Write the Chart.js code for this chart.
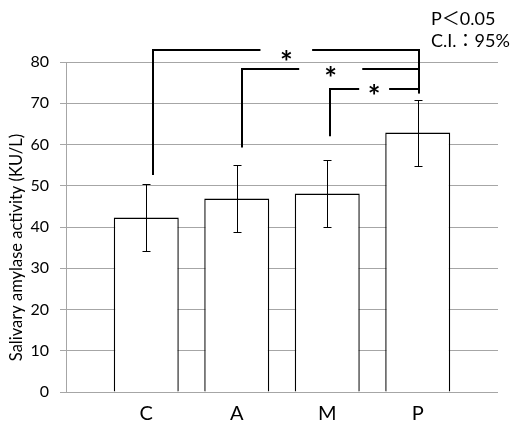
<!DOCTYPE html>
<html><head><meta charset="utf-8">
<script src="https://cdn.jsdelivr.net/npm/chart.js@4.4.1/dist/chart.umd.min.js"></script>
<style>html,body{margin:0;padding:0;background:#fff}#wrap{width:518px;height:425px}</style>
</head><body><div id="wrap"><canvas id="c" width="518" height="425"></canvas></div>
<script>
// ---- data ----
const categories = ['C', 'A', 'M', 'P'];
const means = [42.3, 46.9, 48.1, 62.9];
const sds = [8.1, 8.1, 8.1, 8.0];
const yTicks = [0, 10, 20, 30, 40, 50, 60, 70, 80];
// significance brackets (x in category units, y in KU/L units)
const bracketFrom = [0.07, 1.06, 2.03];
const bracketTo = [3.01, 3.01, 3.01];
const bracketLevel = [83.0, 78.3, 73.4];
const bracketLeftEnd = [52.6, 59.3, 62.0];
const bracketRightEnd = [72.4, 72.4, 72.4];
const gapStart = [1.262, 1.69, 2.353];
const gapEnd = [1.833, 2.387, 2.684];
const starY = [81.6, 77.8, 73.3];
const starLabel = ['*', '*', '*'];
const noteLines = ['P＜0.05', 'C.I.：95%'];
const yTitle = 'Salivary amylase activity (KU/L)';

const FONT = 'Lato, "Noto Sans CJK JP", "Noto Sans", sans-serif';

const annot = {
  id: 'annot',
  afterDraw(chart) {
    const ctx = chart.ctx, xs = chart.scales.x, ys = chart.scales.y;
    ctx.save();
    // error bars
    ctx.strokeStyle = '#000'; ctx.lineWidth = 1;
    means.forEach((m, i) => {
      const x = Math.round(xs.getPixelForValue(i)) + 0.5;
      const t = Math.round(ys.getPixelForValue(m + sds[i])) + 0.5;
      const b = Math.round(ys.getPixelForValue(m - sds[i])) + 0.5;
      ctx.beginPath();
      ctx.moveTo(x, t); ctx.lineTo(x, b);
      ctx.moveTo(x - 4, t); ctx.lineTo(x + 4, t);
      ctx.moveTo(x - 4, b); ctx.lineTo(x + 4, b);
      ctx.stroke();
    });
    // brackets
    ctx.lineWidth = 2;
    bracketFrom.forEach((f, i) => {
      const xl = Math.round(xs.getPixelForValue(f));
      const xr = Math.round(xs.getPixelForValue(bracketTo[i]));
      const yl = Math.round(ys.getPixelForValue(bracketLevel[i]));
      const g1 = xs.getPixelForValue(gapStart[i]);
      const g2 = xs.getPixelForValue(gapEnd[i]);
      ctx.beginPath();
      ctx.moveTo(xl, ys.getPixelForValue(bracketLeftEnd[i]));
      ctx.lineTo(xl, yl); ctx.lineTo(g1, yl);
      ctx.moveTo(g2, yl); ctx.lineTo(xr, yl);
      ctx.lineTo(xr, ys.getPixelForValue(bracketRightEnd[i]));
      ctx.stroke();
      // star
      ctx.fillStyle = '#000';
      ctx.font = 'bold 30px ' + FONT;
      ctx.textAlign = 'center'; ctx.textBaseline = 'alphabetic';
      const mt = ctx.measureText(starLabel[i]);
      const cy = ys.getPixelForValue(starY[i]);
      ctx.fillText(starLabel[i], (g1 + g2) / 2, cy + (mt.actualBoundingBoxAscent - mt.actualBoundingBoxDescent) / 2);
    });
    // notes
    ctx.font = '18px ' + FONT;
    ctx.textAlign = 'left'; ctx.textBaseline = 'alphabetic';
    ctx.fillText(noteLines[0], 431, 25);
    ctx.fillText(noteLines[1], 431, 47);
    // y title
    ctx.font = '16.5px ' + FONT;
    ctx.translate(17, 247.5);
    ctx.rotate(-Math.PI / 2);
    ctx.textAlign = 'center'; ctx.textBaseline = 'middle';
    ctx.fillText(yTitle, 0, 0);
    ctx.restore();
  }
};

new Chart(document.getElementById('c').getContext('2d'), {
  type: 'bar',
  data: {
    datasets: [{
      data: means.map((v, i) => ({ x: i, y: v })),
      backgroundColor: '#ffffff',
      borderColor: '#000000',
      borderWidth: 1.4,
      barPercentage: 0.718,
      categoryPercentage: 1
    }]
  },
  options: {
    responsive: false, animation: false, devicePixelRatio: 1,
    layout: { padding: { top: 62, right: 20, left: 0, bottom: 0 } },
    plugins: { legend: { display: false }, tooltip: { enabled: false } },
    scales: {
      x: {
        type: 'linear', min: -0.887, max: 3.887, offset: false,
        grid: { display: false, drawTicks: false },
        border: { display: false },
        afterBuildTicks(s) { s.ticks = categories.map((_, i) => ({ value: i })); },
        ticks: { callback: (v) => categories[v], color: '#000', font: { family: FONT, size: 20 }, padding: 10, maxRotation: 0, autoSkip: false },
        afterFit(s) { s.height = 33; }
      },
      y: {
        min: 0, max: 80,
        afterBuildTicks(s) { s.ticks = yTicks.map(v => ({ value: v })); },
        grid: { color: '#a6a6a6', tickLength: 6, lineWidth: 1 },
        border: { color: '#a6a6a6' },
        ticks: { color: '#000', font: { family: FONT, size: 16 }, padding: 11 },
        afterFit(s) { s.width = 66; }
      }
    }
  },
  plugins: [annot]
});
</script>
</body></html>
